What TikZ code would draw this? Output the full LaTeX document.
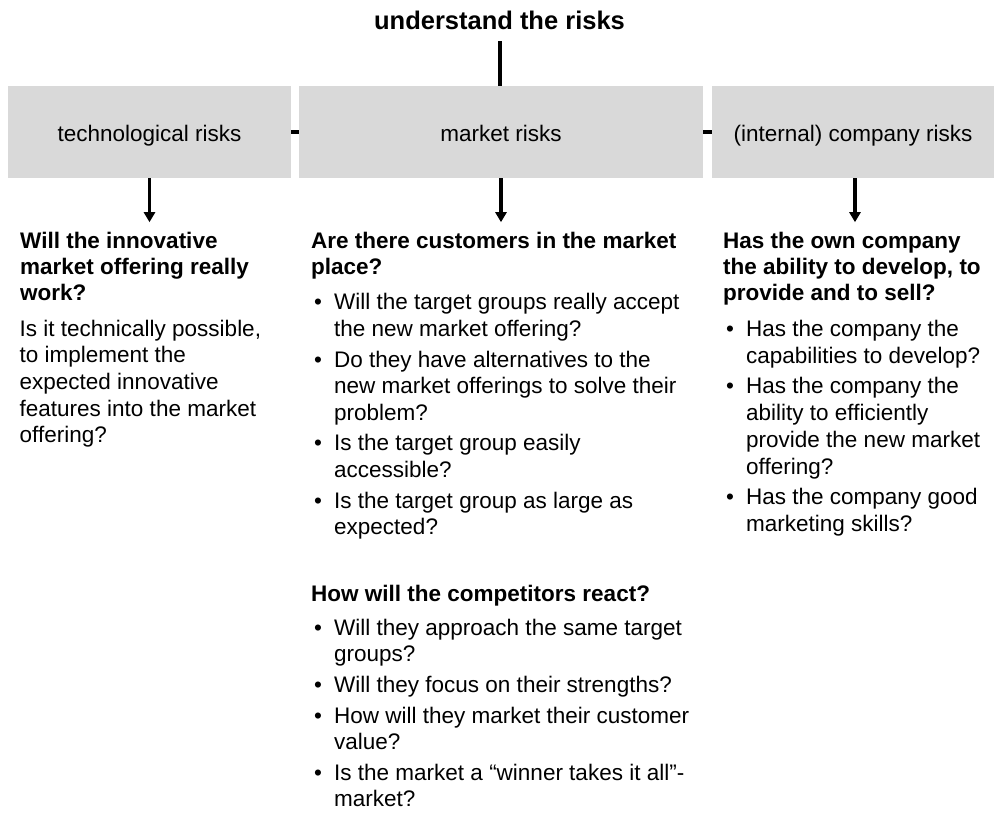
\documentclass[tikz,border=0pt]{standalone}
\usepackage{fontspec}
\setmainfont{Liberation Sans}
\usetikzlibrary{arrows.meta}
\definecolor{boxgray}{RGB}{217,217,217}
\newcommand\mystrut{\rule{0pt}{20pt}}
\newcommand\bul{\makebox[23pt][l]{\hspace{3pt}•}}
\newcommand\ind{\hspace*{23pt}}
\begin{document}
\begin{tikzpicture}[x=1pt,y=-1pt,
  box/.style={fill=boxgray, draw=none, inner sep=0pt,
    font=\fontsize{22.5}{27}\selectfont, text height=18pt, text depth=0pt},
  head/.style={anchor=north west, inner sep=0pt, align=left,
    font=\fontsize{22.5}{26}\selectfont\bfseries},
  body/.style={anchor=north west, inner sep=0pt, align=left,
    font=\fontsize{22.5}{26.6}\selectfont},
  link/.style={line width=4pt},
  arr/.style={line width=3.5pt, -{Triangle[width=11pt,length=10pt]}}]
\useasboundingbox (0,0) rectangle (994,814);

% title
\node[inner sep=0pt, anchor=base, font=\fontsize{25.5}{30}\selectfont\bfseries]
  (t) at (499.5,29.3) {understand the risks};

% boxes
\node[box, minimum width=283pt, minimum height=92pt] (b1) at (149.5,132) {technological risks};
\node[box, minimum width=404pt, minimum height=92pt] (b2) at (501,132) {market risks};
\node[box, minimum width=282pt, minimum height=92pt] (b3) at (853,132) {(internal) company risks};

% connectors
\draw[link, shorten <=11.5pt] (t.south) -- (t.south |- b2.north);
\draw[link] (b1.east) -- (b2.west);
\draw[link] (b2.east) -- (b3.west);
\path (b1.south) ++(0,44) coordinate (e1);
\path (b2.south) ++(0,44) coordinate (e2);
\path (b3.south) ++(2,44) coordinate (e3);
\draw[arr] (b1.south) -- (e1);
\draw[arr] (b2.south) -- (e2);
\draw[arr] (b3.south -| e3) -- (e3);

% left column
\node[head] (lh) at (20,228.7) {\mystrut Will the innovative\\market offering really\\work?};
\node[body] (lb) at (19.5,316) {\mystrut Is it technically possible,\\to implement the\\expected innovative\\features into the market\\offering?};

% middle column
\node[head] (mh1) at (311,228.7) {\mystrut Are there customers in the market\\place?};
\node[body] (mb1) at (311,289.7) {\mystrut\bul Will the target groups really accept\\\ind the new market offering?\\[4pt]
\bul Do they have alternatives to the\\\ind new market offerings to solve their\\\ind problem?\\[4pt]
\bul Is the target group easily\\\ind accessible?\\[4pt]
\bul Is the target group as large as\\\ind expected?};
\node[head] (mh2) at (311,581.7) {\mystrut How will the competitors react?};
\node[body] (mb2) at (311,615) {\mystrut\bul Will they approach the same target\\\ind groups?\\[4pt]
\bul Will they focus on their strengths?\\[4pt]
\bul How will they market their customer\\\ind value?\\[4pt]
\bul Is the market a “winner takes it all”-\\\ind market?};

% right column
\node[head] (rh) at (723,228.7) {\mystrut Has the own company\\the ability to develop, to\\provide and to sell?};
\node[body, font=\fontsize{22.5}{26.7}\selectfont] (rb) at (723,316.3) {\mystrut\bul Has the company the\\\ind capabilities to develop?\\[4pt]
\bul Has the company the\\\ind ability to efficiently\\\ind provide the new market\\\ind offering?\\[4pt]
\bul Has the company good\\\ind marketing skills?};
\end{tikzpicture}
\end{document}
